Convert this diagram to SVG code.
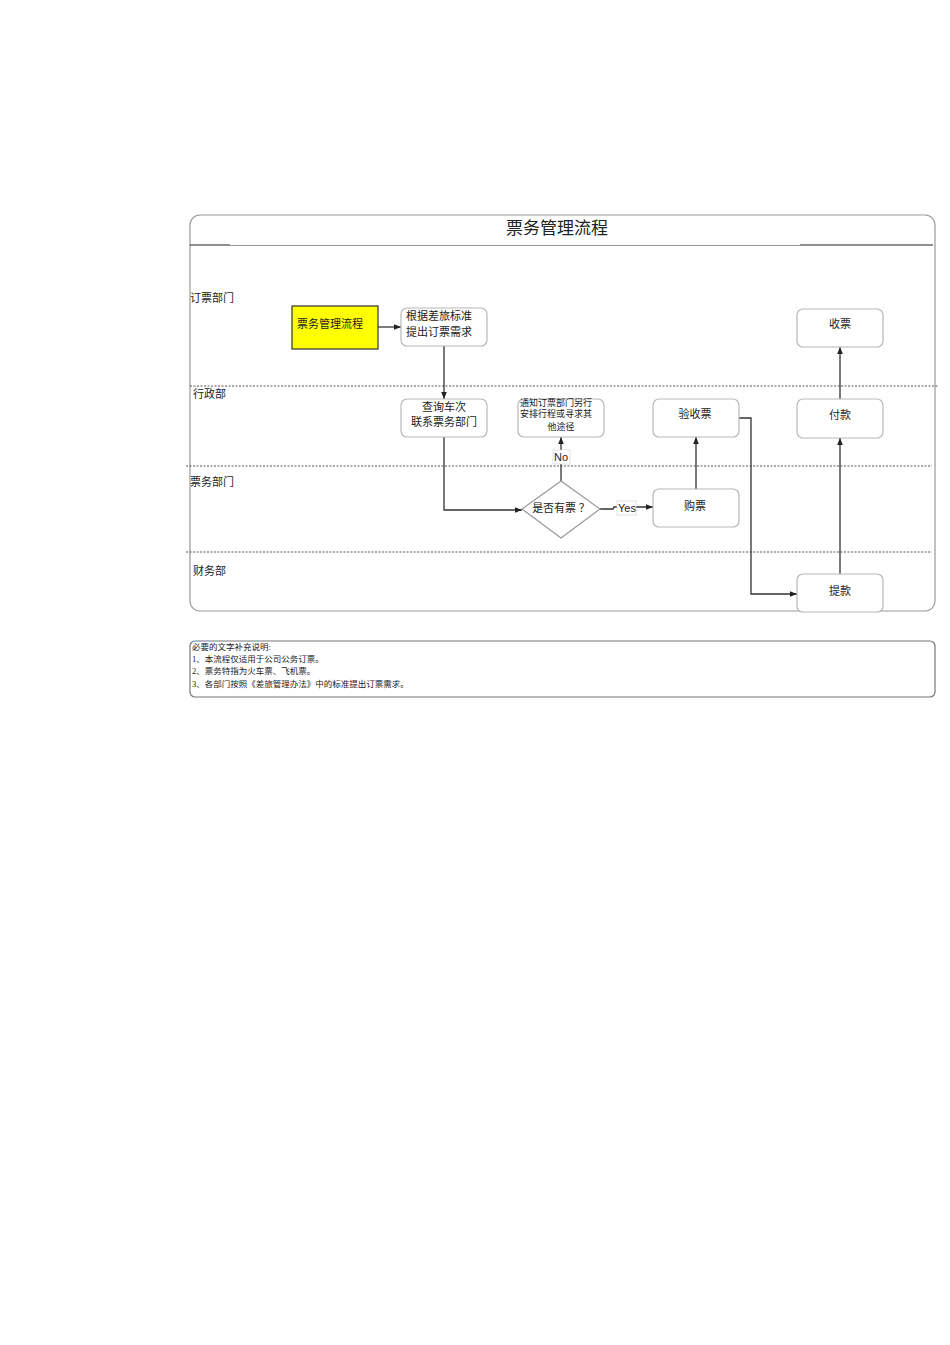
<svg xmlns="http://www.w3.org/2000/svg" width="950" height="1345" viewBox="0 0 950 1345">
<style>
text{font-family:"Liberation Serif","Noto Sans CJK SC",serif;fill:#222}
.lane{font-size:11px}
.node{fill:#fff;stroke:#b8b8b8;stroke-width:1.2}
.t{font-size:11px;text-anchor:middle}
.s{font-size:9px;text-anchor:middle}
.n{font-size:8.5px}
.lbl{font-family:"Liberation Sans","Noto Sans CJK SC",sans-serif;font-size:11px;text-anchor:middle}
.dash{stroke:#555;stroke-width:1;stroke-dasharray:2,1.5;fill:none}
.c{fill:none;stroke:#333;stroke-width:1.3}
</style>
<defs>
<marker id="ah" viewBox="0 0 10 10" refX="10" refY="5" markerWidth="7" markerHeight="7" orient="auto" markerUnits="userSpaceOnUse">
<path d="M0,1 L10,5 L0,9 z" fill="#222"/>
</marker>
</defs>
<rect width="950" height="1345" fill="#fff"/>
<g id="frame">
<rect x="190" y="215" width="745" height="396" rx="10" fill="none" stroke="#999" stroke-width="1.2"/>
<text x="557" y="234" font-size="17" text-anchor="middle">票务管理流程</text>
<line x1="190" y1="245" x2="230" y2="245" stroke="#222" stroke-width="1.2"/>
<line x1="230" y1="245.5" x2="800" y2="245.5" stroke="#999" stroke-width="1"/>
<line x1="800" y1="245" x2="933" y2="245" stroke="#222" stroke-width="1.2"/>
<line x1="190" y1="386" x2="938" y2="386" class="dash"/>
<line x1="186" y1="466" x2="932" y2="466" class="dash"/>
<line x1="186" y1="552" x2="932" y2="552" class="dash"/>
<text x="190" y="302" class="lane">订票部门</text>
<text x="193" y="398" class="lane">行政部</text>
<text x="190" y="486" class="lane">票务部门</text>
<text x="193" y="575" class="lane">财务部</text>
</g>
<g id="connectors">
<path class="c" d="M378,327 L401,327" marker-end="url(#ah)"/>
<path class="c" d="M444,346 L444,399" marker-end="url(#ah)"/>
<path class="c" d="M444,437 L444,510 L522,510" marker-end="url(#ah)"/>
<path class="c" d="M561,481 L561,437" marker-end="url(#ah)"/>
<path class="c" d="M600,509 L613,509 L614,507 L653,507" marker-end="url(#ah)"/>
<path class="c" d="M696,489 L696,437" marker-end="url(#ah)"/>
<path class="c" d="M739,418 L751,418 L751,594 L797,594" marker-end="url(#ah)"/>
<path class="c" d="M840,574 L840,438" marker-end="url(#ah)"/>
<path class="c" d="M840,399 L840,347" marker-end="url(#ah)"/>
<rect x="553" y="450" width="17" height="14" fill="#fff" stroke="#ccc" stroke-width="0.6"/>
<text x="561" y="461" class="lbl">No</text>
<rect x="617" y="501" width="19" height="14" fill="#fff" stroke="#ccc" stroke-width="0.6"/>
<text x="627" y="512" class="lbl">Yes</text>
</g>
<g id="start">
<rect x="292" y="306" width="86" height="43" fill="#ffff00" stroke="#333" stroke-width="1.2"/>
<text x="297" y="328" font-size="11">票务管理流程</text>
</g>
<g id="n-need">
<rect x="401" y="308" width="86" height="38" rx="6" class="node"/>
<text x="406" y="320" font-size="11">根据差旅标准</text>
<text x="406" y="336" font-size="11">提出订票需求</text>
</g>
<g id="n-query">
<rect x="401" y="399" width="86" height="38" rx="6" class="node"/>
<text x="444" y="411" class="t">查询车次</text>
<text x="444" y="426" class="t">联系票务部门</text>
</g>
<g id="n-notify">
<rect x="518" y="399" width="86" height="38" rx="6" class="node"/>
<text x="556" y="406" class="s">通知订票部门另行</text>
<text x="556" y="417" class="s">安排行程或寻求其</text>
<text x="561" y="430" class="s">他途径</text>
</g>
<g id="n-check">
<rect x="653" y="399" width="86" height="38" rx="6" class="node"/>
<text x="695" y="418" class="t">验收票</text>
</g>
<g id="n-pay">
<rect x="797" y="399" width="86" height="39" rx="6" class="node"/>
<text x="840" y="419" class="t">付款</text>
</g>
<g id="n-receive">
<rect x="797" y="309" width="86" height="38" rx="6" class="node"/>
<text x="840" y="328" class="t">收票</text>
</g>
<g id="n-buy">
<rect x="653" y="489" width="86" height="38" rx="6" class="node"/>
<text x="695" y="510" class="t">购票</text>
</g>
<g id="n-withdraw">
<rect x="797" y="574" width="86" height="38" rx="6" class="node"/>
<text x="840" y="595" class="t">提款</text>
</g>
<g id="n-decision">
<polygon points="561,481 600,509 561,538 522,509" fill="#fff" stroke="#999" stroke-width="1.2"/>
<text x="561" y="512" class="t">是否有票 ？</text>
</g>
<g id="notes">
<rect x="190" y="641" width="745" height="56" rx="5" fill="none" stroke="#777" stroke-width="1.2"/>
<text x="192" y="650" class="n">必要的文字补充说明:</text>
<text x="192" y="662" class="n">1、本流程仅适用于公司公务订票。</text>
<text x="192" y="674" class="n">2、票务特指为火车票、飞机票。</text>
<text x="192" y="687" class="n">3、各部门按照《差旅管理办法》中的标准提出订票需求。</text>
</g>
</svg>
